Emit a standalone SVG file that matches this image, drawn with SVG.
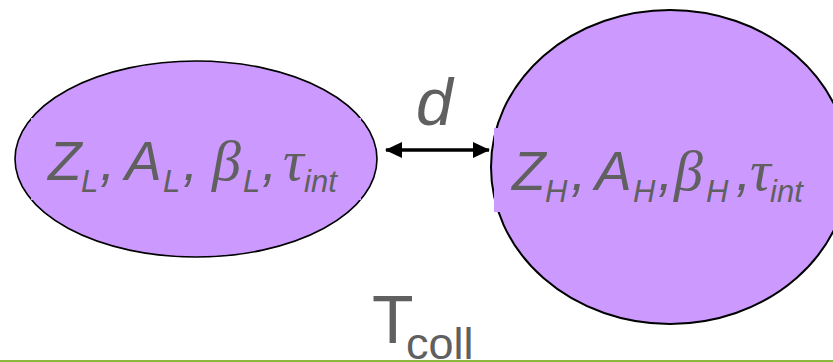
<svg xmlns="http://www.w3.org/2000/svg" width="833" height="362" viewBox="0 0 833 362">
<style>
.node{fill:#cc99ff;stroke:#000;stroke-width:1.6}
.box{fill:#cc99ff}
.t{font-family:"Liberation Sans",Arial,sans-serif;font-style:italic;fill:#606060}
.g{font-family:"Liberation Serif","DejaVu Serif",serif;font-style:italic;fill:#606060}
.m{font-size:55px}
.gm{font-size:58px}
.s{font-size:31px}
.conn{stroke:#000;stroke-width:3.5;fill:none}
</style>
<defs>
<marker id="ah" viewBox="0 0 17 16" refX="16" refY="8" markerWidth="17" markerHeight="16" markerUnits="userSpaceOnUse" orient="auto-start-reverse">
<path d="M0,0 L17,8 L0,16 Z" fill="#000"/>
</marker>
</defs>
<rect width="833" height="362" fill="#fff"/>
<g id="nodeL">
<ellipse class="node" cx="196" cy="159" rx="181" ry="98"/>
<rect class="box" x="31" y="118" width="330" height="82"/>
<text class="t m" x="48" y="180">Z</text>
<text class="t s" x="81" y="192">L</text>
<text class="t m" x="100" y="180">,</text>
<text class="t m" x="125" y="180">A</text>
<text class="t s" x="163" y="192">L</text>
<text class="t m" x="183" y="180">,</text>
<text class="g gm" x="212" y="180">β</text>
<text class="t s" x="243" y="192">L</text>
<text class="t m" x="262" y="180">,</text>
<text class="g gm" x="283" y="180">τ</text>
<text class="t s" x="304" y="192">int</text>
</g>
<g id="nodeH">
<ellipse class="node" cx="670" cy="167" rx="179" ry="157" style="stroke-width:2"/>
<rect class="box" x="494" y="128" width="339" height="84"/>
<text class="t m" x="512" y="190">Z</text>
<text class="t s" x="545" y="202">H</text>
<text class="t m" x="571" y="190">,</text>
<text class="t m" x="595" y="190">A</text>
<text class="t s" x="633" y="202">H</text>
<text class="t m" x="658" y="190">,</text>
<text class="g gm" x="674" y="190">β</text>
<text class="t s" x="706" y="202">H</text>
<text class="t m" x="736" y="190">,</text>
<text class="g gm" x="750" y="190">τ</text>
<text class="t s" x="770" y="202">int</text>
</g>
<g id="connectors">
<line class="conn" x1="386" y1="150" x2="489" y2="150" marker-start="url(#ah)" marker-end="url(#ah)"/>
</g>
<text class="t" x="416" y="125" style="font-size:66px">d</text>
<text x="372" y="343" style="font-family:'Liberation Sans',Arial,sans-serif;font-size:68px;fill:#606060">T</text>
<text x="406" y="359" style="font-family:'Liberation Sans',Arial,sans-serif;font-size:45px;fill:#606060">coll</text>
<line x1="0" y1="361" x2="833" y2="361" stroke="#8db63c" stroke-width="2"/>
</svg>
